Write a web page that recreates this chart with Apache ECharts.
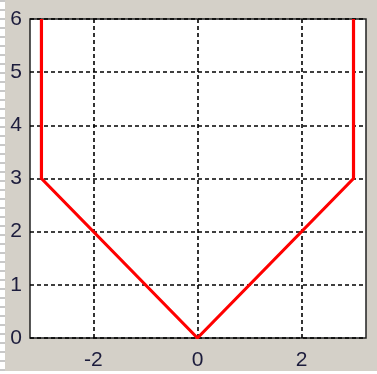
<!DOCTYPE html>
<html>
<head>
<meta charset="utf-8">
<script src="https://cdn.jsdelivr.net/npm/echarts@6/dist/echarts.min.js"></script>
<style>
  html, body { margin: 0; padding: 0; background: #ffffff; }
  #strip { position: absolute; left: 0; top: 0; width: 5px; height: 374px;
    background: repeating-linear-gradient(to bottom, #c8c8c8 0 2px, #ffffff 2px 9px); }
  #chart { position: absolute; left: 5px; top: 0; width: 372px; height: 371px; background: #d4d0c8; }
</style>
</head>
<body>
<div id="strip"></div>
<div id="chart"></div>
<script>
// Data
const xValues = [-3, -3, 0, 3, 3];
const yValues = [6, 3, 0, 3, 6];
const xTicks = [-2, 0, 2];
const yTicks = [0, 1, 2, 3, 4, 5, 6];

const chart = echarts.init(document.getElementById('chart'), null, { renderer: 'canvas' });
const labelStyle = { color: '#1c1c3c', fontSize: 21, fontFamily: 'Liberation Sans, Arial, sans-serif' };
const gridLine = { show: true, lineStyle: { color: '#000', width: 1.6, type: [4, 3] } };

chart.setOption({
  backgroundColor: '#d4d0c8',
  animation: false,
  grid: { left: 25, top: 19, width: 336, height: 323, show: true, backgroundColor: '#ffffff',
          borderColor: '#222', borderWidth: 1.5 },
  xAxis: {
    type: 'value', min: -3.22, max: 3.24,
    axisLine: { show: false }, axisTick: { show: false, customValues: xTicks },
    axisLabel: Object.assign({ margin: 12, customValues: xTicks }, labelStyle),
    splitLine: gridLine
  },
  yAxis: {
    type: 'value', min: yTicks[0], max: yTicks[yTicks.length - 1], interval: 1,
    axisLine: { show: false }, axisTick: { show: false },
    axisLabel: Object.assign({ margin: 8, formatter: v => String(v) }, labelStyle),
    splitLine: gridLine
  },
  series: [{
    type: 'line',
    data: xValues.map((x, i) => [x, yValues[i]]),
    showSymbol: false,
    lineStyle: { color: '#ff0000', width: 3.2 },
    z: 5
  }]
});
</script>
</body>
</html>
